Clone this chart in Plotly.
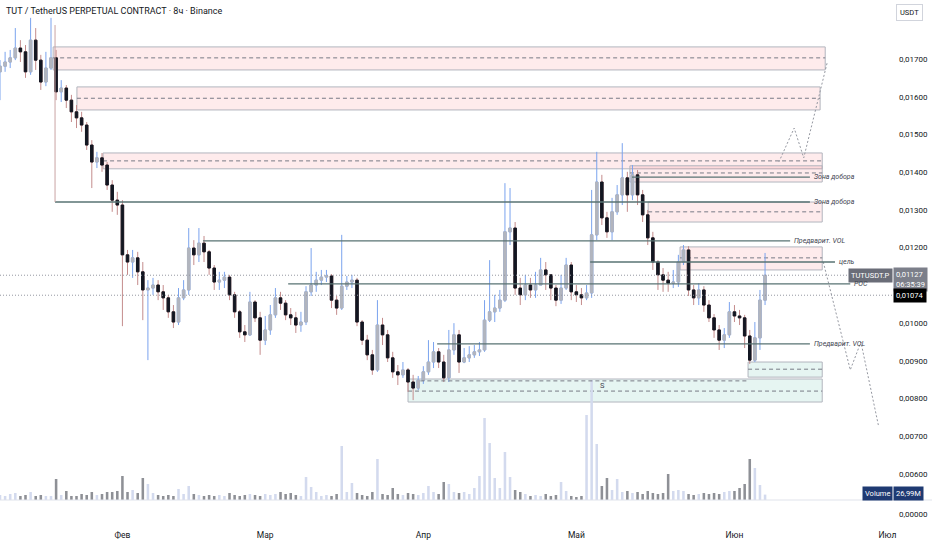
import pandas as pd
import plotly.graph_objects as go

# daily candles (TUTUSDT.P), first candle 2025-01-08
opens = [
    0.01666, 0.01681, 0.01692, 0.01703, 0.01729, 0.01719, 0.01666, 0.01750, 0.01697, 0.01639,
    0.01676, 0.01703, 0.01613, 0.01623, 0.01591, 0.01560, 0.01544, 0.01525, 0.01472, 0.01427,
    0.01438, 0.01419, 0.01366, 0.01326, 0.01313, 0.01181, 0.01162, 0.01173, 0.01136, 0.01088,
    0.01093, 0.01101, 0.01083, 0.01067, 0.01030, 0.01003, 0.01067, 0.01088, 0.01199, 0.01181,
    0.01212, 0.01189, 0.01146, 0.01109, 0.01114, 0.01122, 0.01075, 0.01030, 0.00977, 0.00969,
    0.01056, 0.01014, 0.00955, 0.00982, 0.01022, 0.01067, 0.01053, 0.01022, 0.01014, 0.00995,
    0.01003, 0.01083, 0.01101, 0.01114, 0.01122, 0.01125, 0.01061, 0.01040, 0.01098, 0.01109,
    0.01114, 0.01003, 0.00955, 0.00916, 0.00876, 0.00995, 0.00969, 0.00908, 0.00871, 0.00863,
    0.00876, 0.00844, 0.00828, 0.00849, 0.00871, 0.00897, 0.00924, 0.00897, 0.00855, 0.00929,
    0.00969, 0.00897, 0.00908, 0.00916, 0.00924, 0.00929, 0.01008, 0.01030, 0.01040, 0.01061,
    0.01242, 0.01252, 0.01093, 0.01075, 0.01101, 0.01088, 0.01101, 0.01141, 0.01128, 0.01093,
    0.01061, 0.01093, 0.01154, 0.01083, 0.01075, 0.01067, 0.01080, 0.01234, 0.01374, 0.01279,
    0.01242, 0.01295, 0.01340, 0.01385, 0.01340, 0.01393, 0.01340, 0.01287, 0.01226, 0.01162,
    0.01128, 0.01114, 0.01106, 0.01109, 0.01162, 0.01194, 0.01088, 0.01067, 0.01088, 0.01048,
    0.01014, 0.00982, 0.00955, 0.00969, 0.01030, 0.01019, 0.01014, 0.00966, 0.00902, 0.00961,
    0.01061,
]
highs = [
    0.01697, 0.01719, 0.01724, 0.01782, 0.01750, 0.01737, 0.01809, 0.01782, 0.01711, 0.01719,
    0.01809, 0.01724, 0.01644, 0.01631, 0.01605, 0.01578, 0.01560, 0.01533, 0.01485, 0.01454,
    0.01451, 0.01427, 0.01379, 0.01348, 0.01326, 0.01194, 0.01194, 0.01189, 0.01162, 0.01114,
    0.01120, 0.01114, 0.01101, 0.01075, 0.01048, 0.01093, 0.01114, 0.01252, 0.01220, 0.01252,
    0.01231, 0.01194, 0.01154, 0.01136, 0.01136, 0.01128, 0.01083, 0.01035, 0.00995, 0.01083,
    0.01061, 0.01030, 0.01019, 0.01048, 0.01093, 0.01083, 0.01061, 0.01040, 0.01030, 0.01030,
    0.01098, 0.01199, 0.01136, 0.01141, 0.01141, 0.01130, 0.01072, 0.01234, 0.01125, 0.01128,
    0.01120, 0.01008, 0.00969, 0.00929, 0.01061, 0.01014, 0.00982, 0.00924, 0.00889, 0.00897,
    0.00881, 0.00863, 0.00860, 0.00886, 0.00955, 0.00950, 0.00934, 0.00916, 0.00982, 0.01000,
    0.00982, 0.00934, 0.00939, 0.00942, 0.00950, 0.01061, 0.01167, 0.01075, 0.01088, 0.01371,
    0.01358, 0.01268, 0.01120, 0.01128, 0.01120, 0.01136, 0.01173, 0.01162, 0.01128, 0.01101,
    0.01128, 0.01173, 0.01162, 0.01101, 0.01093, 0.01101, 0.01353, 0.01454, 0.01393, 0.01295,
    0.01332, 0.01366, 0.01477, 0.01401, 0.01419, 0.01406, 0.01353, 0.01300, 0.01242, 0.01167,
    0.01146, 0.01136, 0.01141, 0.01181, 0.01207, 0.01204, 0.01101, 0.01106, 0.01098, 0.01061,
    0.01024, 0.00995, 0.00987, 0.01056, 0.01048, 0.01035, 0.01022, 0.00982, 0.01003, 0.01088,
    0.01186,
]
lows = [
    0.01591, 0.01666, 0.01676, 0.01697, 0.01692, 0.01650, 0.01658, 0.01671, 0.01618, 0.01628,
    0.01671, 0.01591, 0.01586, 0.01570, 0.01533, 0.01517, 0.01507, 0.01459, 0.01358, 0.01411,
    0.01401, 0.01353, 0.01295, 0.01287, 0.00992, 0.01128, 0.01120, 0.01101, 0.01008, 0.00902,
    0.01075, 0.01061, 0.01035, 0.01014, 0.00987, 0.00995, 0.01061, 0.01075, 0.01154, 0.01162,
    0.01162, 0.01128, 0.01088, 0.01088, 0.01093, 0.01061, 0.01014, 0.00961, 0.00950, 0.00966,
    0.01003, 0.00916, 0.00942, 0.00969, 0.01014, 0.01035, 0.01008, 0.00995, 0.00974, 0.00977,
    0.00995, 0.01072, 0.01083, 0.01101, 0.01109, 0.01040, 0.01022, 0.01035, 0.01088, 0.01093,
    0.00992, 0.00942, 0.00902, 0.00863, 0.00871, 0.00942, 0.00897, 0.00855, 0.00836, 0.00855,
    0.00818, 0.00796, 0.00823, 0.00839, 0.00863, 0.00881, 0.00881, 0.00844, 0.00844, 0.00916,
    0.00868, 0.00894, 0.00897, 0.00908, 0.00913, 0.00924, 0.01003, 0.01003, 0.01030, 0.01056,
    0.01207, 0.01075, 0.01048, 0.01061, 0.01067, 0.01067, 0.01101, 0.01088, 0.01061, 0.01045,
    0.01051, 0.01088, 0.01061, 0.01056, 0.01048, 0.01061, 0.01067, 0.01220, 0.01260, 0.01226,
    0.01220, 0.01287, 0.01313, 0.01295, 0.01326, 0.01313, 0.01268, 0.01207, 0.01141, 0.01088,
    0.01083, 0.01083, 0.01093, 0.01096, 0.01154, 0.01072, 0.01048, 0.01048, 0.01030, 0.01003,
    0.00961, 0.00929, 0.00934, 0.00961, 0.01003, 0.00995, 0.00934, 0.00892, 0.00897, 0.00929,
    0.01048,
]
closes = [
    0.01681, 0.01692, 0.01703, 0.01729, 0.01719, 0.01666, 0.01750, 0.01697, 0.01639, 0.01676,
    0.01703, 0.01613, 0.01623, 0.01591, 0.01560, 0.01544, 0.01525, 0.01472, 0.01427, 0.01438,
    0.01419, 0.01366, 0.01326, 0.01313, 0.01181, 0.01162, 0.01173, 0.01136, 0.01088, 0.01093,
    0.01101, 0.01083, 0.01067, 0.01030, 0.01003, 0.01067, 0.01088, 0.01199, 0.01181, 0.01212,
    0.01189, 0.01146, 0.01109, 0.01114, 0.01122, 0.01075, 0.01030, 0.00977, 0.00969, 0.01056,
    0.01014, 0.00955, 0.00982, 0.01022, 0.01067, 0.01053, 0.01022, 0.01014, 0.00995, 0.01003,
    0.01083, 0.01101, 0.01114, 0.01122, 0.01125, 0.01061, 0.01040, 0.01098, 0.01109, 0.01114,
    0.01003, 0.00955, 0.00916, 0.00876, 0.00995, 0.00969, 0.00908, 0.00871, 0.00863, 0.00876,
    0.00844, 0.00828, 0.00849, 0.00871, 0.00897, 0.00924, 0.00897, 0.00855, 0.00929, 0.00969,
    0.00897, 0.00908, 0.00916, 0.00924, 0.00929, 0.01008, 0.01030, 0.01040, 0.01061, 0.01242,
    0.01252, 0.01093, 0.01075, 0.01101, 0.01088, 0.01101, 0.01141, 0.01128, 0.01093, 0.01061,
    0.01093, 0.01154, 0.01083, 0.01075, 0.01067, 0.01080, 0.01234, 0.01374, 0.01279, 0.01242,
    0.01295, 0.01340, 0.01385, 0.01340, 0.01393, 0.01340, 0.01287, 0.01226, 0.01162, 0.01128,
    0.01114, 0.01106, 0.01109, 0.01162, 0.01194, 0.01088, 0.01067, 0.01088, 0.01048, 0.01014,
    0.00982, 0.00955, 0.00969, 0.01030, 0.01019, 0.01014, 0.00966, 0.00902, 0.00961, 0.01061,
    0.01127,
]
# volume, millions
volumes = [
    25, 20, 30, 35, 20, 25, 40, 20, 25, 20,
    20, 105, 25, 45, 20, 20, 30, 25, 40, 25,
    30, 40, 40, 45, 120, 40, 50, 35, 110, 80,
    35, 25, 20, 25, 20, 55, 30, 70, 30, 25,
    20, 25, 20, 25, 20, 35, 25, 20, 25, 30,
    25, 20, 30, 25, 30, 40, 30, 35, 25, 20,
    115, 65, 40, 20, 25, 20, 30, 270, 40, 85,
    35, 25, 20, 40, 205, 30, 25, 60, 30, 25,
    35, 30, 25, 35, 70, 40, 30, 90, 80, 40,
    35, 40, 30, 60, 120, 410, 285, 110, 60, 240,
    115, 50, 40, 30, 20, 25, 20, 30, 20, 25,
    90, 45, 20, 15, 20, 425, 600, 280, 70, 110,
    50, 105, 40, 45, 35, 40, 30, 45, 35, 30,
    35, 130, 45, 50, 45, 30, 25, 30, 35, 30,
    35, 30, 40, 45, 45, 60, 80, 205, 160, 75,
    26.99,
]

prev_level = 0.01074
countdown = "06:35:39"
last_volume_text = "26,99M"

month_starts = ["2025-02-01", "2025-03-01", "2025-04-01", "2025-05-01", "2025-06-01", "2025-07-01"]
month_labels = ["Фев", "Мар", "Апр", "Май", "Июн", "Июл"]
price_ticks = [0.006, 0.007, 0.008, 0.009, 0.010, 0.012, 0.013, 0.014, 0.015, 0.016, 0.017]

# zones: start, end, top, bottom, middle
red_zones = [
    ("2025-01-18 10:00", "2025-06-18 19:00", 0.01732, 0.01671, 0.01703),
    ("2025-01-23 02:00", "2025-06-17 19:00", 0.01626, 0.01565, 0.01596),
    ("2025-01-28 05:00", "2025-06-18 05:00", 0.01451, 0.01409, 0.01430),
    ("2025-05-11 12:00", "2025-06-18 05:00", 0.01417, 0.01374, 0.01398),
    ("2025-05-15 02:00", "2025-06-18 05:00", 0.01321, 0.01268, 0.01295),
    ("2025-05-21 08:00", "2025-06-18 05:00", 0.01202, 0.01141, 0.01173),
]
green_zones = [
    ("2025-03-29 00:00", "2025-06-18 05:00", 0.00852, 0.00791, 0.00820),
    ("2025-06-03 16:00", "2025-06-18 05:00", 0.00897, 0.00857, 0.00878),
]
# levels: price, start, end, label
levels = [
    (0.01321, "2025-01-18 19:00", "2025-06-15 19:00", "Зона добора"),
    (0.01387, "2025-05-11 22:00", "2025-06-15 19:00", "Зона добора"),
    (0.01218, "2025-02-16 19:00", "2025-06-11 22:00", "Предварит. VOL"),
    (0.01162, "2025-05-03 17:00", "2025-06-20 17:00", "цель"),
    (0.01104, "2025-03-05 12:00", "2025-06-23 17:00", "POC"),
    (0.00945, "2025-04-03 17:00", "2025-06-15 19:00", "Предварит. VOL"),
]
s_level = (0.00847, "2025-03-31 10:00", "2025-06-03 16:00")
s_label = ("2025-05-06 05:00", 0.00836)
marker_line = ("2025-01-18 19:00", 0.01790, 0.01321)

path_up_dates = ["2025-06-09 17:00", "2025-06-12 17:00", "2025-06-14 14:00", "2025-06-19 05:00"]
path_up_prices = [0.01427, 0.01517, 0.01438, 0.01692]
path_down_dates = ["2025-06-18 10:00", "2025-06-23 17:00", "2025-06-25 19:00", "2025-06-29 05:00"]
path_down_prices = [0.01162, 0.00876, 0.00950, 0.00730]

dates = pd.date_range("2025-01-08", periods=len(closes), freq="D")
body_hi = [max(o, c) for o, c in zip(opens, closes)]
body_lo = [min(o, c) for o, c in zip(opens, closes)]
vol_colors = ["#d3daee" if c >= o else "#8e9096" for o, c in zip(opens, closes)]

UP_BODY, DOWN_BODY = "#b2b5be", "#131722"
UP_WICK, DOWN_WICK = "#7aa3ee", "#c48c8c"
LEVEL_COLOR = "#587373"
GRID_TXT = "#131722"

fig = go.Figure()

fig.add_trace(go.Bar(
    x=dates, y=volumes, yaxis="y2", marker_color=vol_colors, marker_line_width=0,
    width=0.5 * 86400000, hoverinfo="skip"))

# wicks
fig.add_trace(go.Candlestick(
    x=dates, open=opens, high=highs, low=lows, close=closes,
    increasing=dict(line=dict(color=UP_WICK, width=1), fillcolor=UP_WICK),
    decreasing=dict(line=dict(color=DOWN_WICK, width=1), fillcolor=DOWN_WICK),
    hoverinfo="skip"))
# bodies
fig.add_trace(go.Candlestick(
    x=dates, open=opens, high=body_hi, low=body_lo, close=closes,
    increasing=dict(line=dict(color=UP_BODY, width=1), fillcolor=UP_BODY),
    decreasing=dict(line=dict(color=DOWN_BODY, width=1), fillcolor=DOWN_BODY),
    hoverinfo="skip"))

for px, py in ((path_up_dates, path_up_prices), (path_down_dates, path_down_prices)):
    fig.add_trace(go.Scatter(x=px, y=py, mode="lines", hoverinfo="skip",
                             line=dict(color="#9598a1", width=1, dash="2px,2px")))

shapes = []
for zones, fill in ((red_zones, "rgba(242,54,69,0.10)"), (green_zones, "rgba(8,153,129,0.10)")):
    for x0, x1, top, bot, mid in zones:
        shapes.append(dict(type="rect", xref="x", yref="y", x0=x0, x1=x1, y0=bot, y1=top,
                           fillcolor=fill, line=dict(color="#b2b5be", width=1), layer="below"))
        shapes.append(dict(type="line", xref="x", yref="y", x0=x0, x1=x1, y0=mid, y1=mid,
                           line=dict(color="#787b86", width=1, dash="4px,3px"), layer="below"))
shapes.append(dict(type="line", xref="x", yref="y", x0=s_level[1], x1=s_level[2],
                   y0=s_level[0], y1=s_level[0],
                   line=dict(color="#787b86", width=1, dash="4px,3px")))
for price, x0, x1, _ in levels:
    shapes.append(dict(type="line", xref="x", yref="y", x0=x0, x1=x1, y0=price, y1=price,
                       line=dict(color=LEVEL_COLOR, width=1.3)))
shapes.append(dict(type="line", xref="x", yref="y", x0=marker_line[0], x1=marker_line[0],
                   y0=marker_line[1], y1=marker_line[2], line=dict(color="#c9a3a3", width=1)))
for lvl in (closes[-1], prev_level):
    shapes.append(dict(type="line", xref="paper", yref="y", x0=0, x1=1, y0=lvl, y1=lvl,
                       line=dict(color="#9598a1", width=1, dash="1px,2px")))
shapes.append(dict(type="line", xref="paper", yref="paper", x0=0, x1=1.05,
                   y0=28 / 528, y1=28 / 528, line=dict(color="#e0e3eb", width=1)))


def fmt(v):
    return f"{v:.5f}".replace(".", ",")


annotations = [
    dict(text="TUT / TetherUS PERPETUAL CONTRACT · 8ч · Binance", xref="paper", yref="paper",
         x=0.004, y=0.979, xanchor="left", yanchor="middle", showarrow=False,
         font=dict(size=9, color=GRID_TXT)),
    dict(text="USDT", xref="paper", yref="paper", x=1.019, y=0.977, xanchor="center",
         yanchor="middle", showarrow=False, bgcolor="white", bordercolor="#d1d4dc",
         borderwidth=1, borderpad=3, font=dict(size=7.5, color=GRID_TXT)),
    dict(text="TUTUSDT.P", xref="paper", yref="y", x=1, y=closes[-1], xanchor="right",
         yanchor="middle", showarrow=False, bgcolor="#6a6d78", borderpad=2,
         font=dict(size=7.5, color="white")),
    dict(text=fmt(closes[-1]) + "<br>" + countdown, xref="paper", yref="y", x=1, y=closes[-1],
         xanchor="left", yanchor="top", yshift=8, showarrow=False, bgcolor="#7c7f8a",
         borderpad=2, align="left", font=dict(size=7.5, color="white")),
    dict(text=fmt(prev_level), xref="paper", yref="y", x=1, y=prev_level, xanchor="left",
         yanchor="middle", showarrow=False, bgcolor="#000000", borderpad=2,
         font=dict(size=7.5, color="white")),
    dict(text="Volume", xref="paper", yref="paper", x=1, y=0.0653, xanchor="right",
         yanchor="middle", showarrow=False, bgcolor="#1f3a72", borderpad=2,
         font=dict(size=7.5, color="white")),
    dict(text=last_volume_text, xref="paper", yref="paper", x=1, y=0.0653, xanchor="left",
         yanchor="middle", showarrow=False, bgcolor="#1f3a72", borderpad=2,
         font=dict(size=7.5, color="white")),
    dict(text="0,00000", xref="paper", yref="paper", x=1, y=0.0265, xanchor="left", xshift=4,
         yanchor="middle", showarrow=False, font=dict(size=8, color=GRID_TXT)),
    dict(text="S", xref="x", yref="y", x=s_label[0], y=s_label[1], showarrow=False,
         font=dict(size=7.5, color="#434651")),
]
for price, x0, x1, label in levels:
    annotations.append(dict(text="<i>" + label + "</i>", xref="x", yref="y", x=x1, y=price,
                            xanchor="left", yanchor="middle", xshift=2, showarrow=False,
                            font=dict(size=7, color="#434651")))

fig.update_layout(
    width=932, height=550,
    margin=dict(l=0, r=39, t=0, b=22),
    paper_bgcolor="white", plot_bgcolor="white",
    showlegend=False, separators=", ",
    font=dict(family="Roboto, 'Liberation Sans', sans-serif", size=8, color=GRID_TXT),
    xaxis=dict(type="date", range=["2025-01-08", "2025-07-02 02:00"], showgrid=False,
               zeroline=False, showline=False, ticks="", tickvals=month_starts,
               ticktext=month_labels, tickfont=dict(size=8.5), rangeslider=dict(visible=False)),
    yaxis=dict(side="right", range=[0.0045715, 0.0185635], tickvals=price_ticks,
               tickformat=".5f", showgrid=False, zeroline=False, showline=False, ticks="",
               ticklabelstandoff=5, tickfont=dict(size=8)),
    yaxis2=dict(overlaying="y", range=[-140, 2500], visible=False),
    shapes=shapes, annotations=annotations,
)

# the page body has a default 8px margin; drop it so the chart fills the window
fig.write_html("out.html", config={"displayModeBar": False},
               post_script="document.body.style.margin = '0';")
